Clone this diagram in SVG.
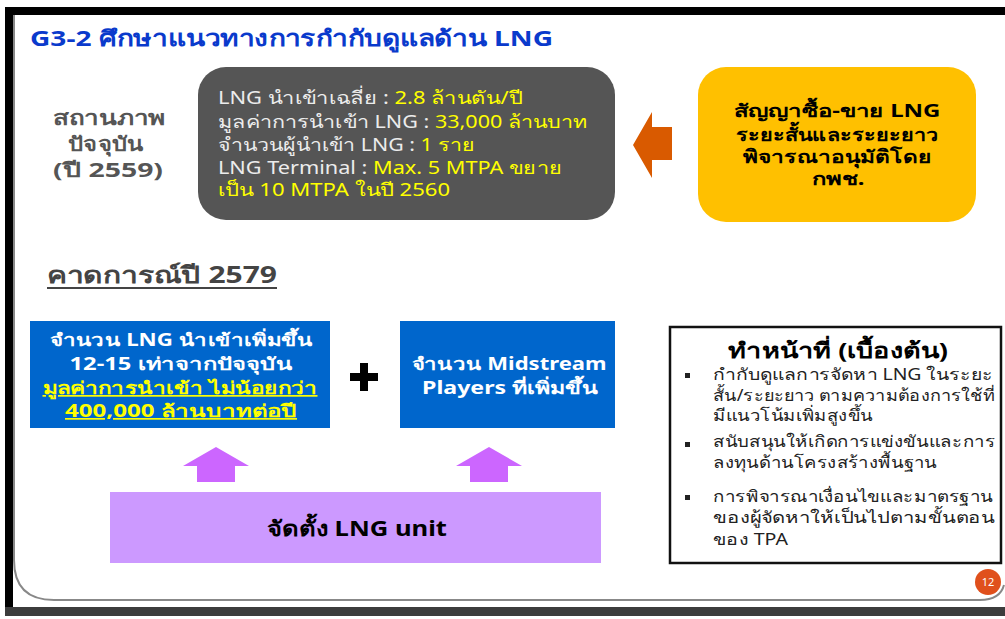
<svg xmlns="http://www.w3.org/2000/svg" width="1005" height="619" viewBox="0 0 1005 619">
<style>
text{font-family:"Noto Sans","DejaVu Sans",sans-serif}
.b{font-weight:bold}
.wt{fill:#ececec}
.yl{fill:#ffff00}
.bul{fill:#222;font-size:16px}
.mid{text-anchor:middle}
</style>
<rect x="0" y="0" width="1005" height="619" fill="#ffffff"/>
<g id="frame">
<rect x="5" y="7" width="1000" height="8" fill="#000"/>
<rect x="5" y="7" width="8" height="605" fill="#000"/>
<rect x="5" y="607" width="1000" height="9" fill="#3c3c3c"/>
<path d="M14 15 V560 Q14 600 54 600 H980 Q1000 600 1004 585" fill="none" stroke="#888" stroke-width="2"/>
</g>
<g id="title">
<text x="30" y="46" class="b" font-size="22" fill="#0a3acc" textLength="523" lengthAdjust="spacingAndGlyphs">G3-2 ศึกษาแนวทางการกำกับดูแลด้าน LNG</text>
</g>
<g id="status-label" class="b" font-size="20" fill="#555">
<text x="109" y="125" class="b mid" textLength="112" lengthAdjust="spacingAndGlyphs">สถานภาพ</text>
<text x="106" y="151" class="b mid" textLength="76" lengthAdjust="spacingAndGlyphs">ปัจจุบัน</text>
<text x="108" y="177" class="b mid" textLength="110" lengthAdjust="spacingAndGlyphs">(ปี 2559)</text>
</g>
<g id="status-box" font-size="18">
<rect x="198" y="67" width="417" height="153" rx="28" fill="#555555"/>
<text x="218" y="104" textLength="304" lengthAdjust="spacingAndGlyphs"><tspan class="wt">LNG นำเข้าเฉลี่ย : </tspan><tspan class="yl">2.8 ล้านตัน/ปี</tspan></text>
<text x="218" y="128" textLength="369" lengthAdjust="spacingAndGlyphs"><tspan class="wt">มูลค่าการนำเข้า LNG : </tspan><tspan class="yl">33,000 ล้านบาท</tspan></text>
<text x="218" y="151" textLength="257" lengthAdjust="spacingAndGlyphs"><tspan class="wt">จำนวนผู้นำเข้า LNG : </tspan><tspan class="yl">1 ราย</tspan></text>
<text x="218" y="174" textLength="344" lengthAdjust="spacingAndGlyphs"><tspan class="wt">LNG Terminal : </tspan><tspan class="yl">Max. 5 MTPA ขยาย</tspan></text>
<text x="218" y="196" class="yl" textLength="232" lengthAdjust="spacingAndGlyphs">เป็น 10 MTPA ในปี 2560</text>
</g>
<g id="connectors">
<path d="M633 145 L652 112 V127 H672 V160 H652 V178 Z" fill="#d95a00"/>
<path d="M183 466 L216 447 L249 466 H235 V482 H197 V466 Z" fill="#cc66ff"/>
<path d="M456 466 L489 447 L522 466 H508 V482 H470 V466 Z" fill="#cc66ff"/>
<path d="M360 363 h8 v10 h10 v8 h-10 v10 h-8 v-10 h-10 v-8 h10 Z" fill="#000"/>
</g>
<g id="contract-box" font-size="18" fill="#000">
<rect x="698" y="67" width="278" height="155" rx="28" fill="#ffc000"/>
<text x="837" y="117" class="b mid" textLength="207" lengthAdjust="spacingAndGlyphs">สัญญาซื้อ-ขาย LNG</text>
<text x="837" y="141" class="b mid" textLength="203" lengthAdjust="spacingAndGlyphs">ระยะสั้นและระยะยาว</text>
<text x="837" y="163" class="b mid" textLength="189" lengthAdjust="spacingAndGlyphs">พิจารณาอนุมัติโดย</text>
<text x="838" y="185" class="b mid" textLength="53" lengthAdjust="spacingAndGlyphs">กพช.</text>
</g>
<g id="forecast-label">
<text x="47" y="283" class="b" font-size="23" fill="#444" textLength="230" lengthAdjust="spacingAndGlyphs">คาดการณ์ปี 2579</text>
<rect x="47" y="287" width="230" height="2" fill="#444"/>
</g>
<g id="forecast-box-1" font-size="17">
<rect x="30" y="321" width="300" height="107" fill="#0066cc"/>
<text x="181" y="346" class="b mid" fill="#fff" textLength="263" lengthAdjust="spacingAndGlyphs">จำนวน LNG นำเข้าเพิ่มขึ้น</text>
<text x="181" y="370" class="b mid" fill="#fff" textLength="223" lengthAdjust="spacingAndGlyphs">12-15 เท่าจากปัจจุบัน</text>
<text x="180" y="394" class="b mid" fill="#ffff00" text-decoration="underline" textLength="275" lengthAdjust="spacingAndGlyphs">มูลค่าการนำเข้า ไม่น้อยกว่า</text>
<text x="181" y="417" class="b mid" fill="#ffff00" text-decoration="underline" textLength="232" lengthAdjust="spacingAndGlyphs">400,000 ล้านบาทต่อปี</text>
</g>
<g id="forecast-box-2" font-size="17" fill="#fff">
<rect x="400" y="321" width="215" height="107" fill="#0066cc"/>
<text x="509" y="370" class="b mid" textLength="195" lengthAdjust="spacingAndGlyphs">จำนวน Midstream</text>
<text x="510" y="394" class="b mid" textLength="176" lengthAdjust="spacingAndGlyphs">Players ที่เพิ่มขึ้น</text>
</g>
<g id="duties-box">
<rect x="670" y="327" width="331" height="236" fill="#fff" stroke="#111" stroke-width="2.5"/>
<text x="838" y="358" class="b mid" font-size="21" fill="#000" textLength="220" lengthAdjust="spacingAndGlyphs">ทำหน้าที่ (เบื้องต้น)</text>
<rect x="685" y="373" width="5" height="5" fill="#222"/>
<rect x="685" y="442" width="5" height="5" fill="#222"/>
<rect x="685" y="495" width="5" height="5" fill="#222"/>
<text x="713" y="380" class="bul" textLength="280" lengthAdjust="spacingAndGlyphs">กำกับดูแลการจัดหา LNG  ในระยะ</text>
<text x="713" y="401" class="bul" textLength="282" lengthAdjust="spacingAndGlyphs">สั้น/ระยะยาว ตามความต้องการใช้ที่</text>
<text x="713" y="421" class="bul" textLength="160" lengthAdjust="spacingAndGlyphs">มีแนวโน้มเพิ่มสูงขึ้น</text>
<text x="713" y="447" class="bul" textLength="282" lengthAdjust="spacingAndGlyphs">สนับสนุนให้เกิดการแข่งขันและการ</text>
<text x="713" y="468" class="bul" textLength="224" lengthAdjust="spacingAndGlyphs">ลงทุนด้านโครงสร้างพื้นฐาน</text>
<text x="713" y="502" class="bul" textLength="280" lengthAdjust="spacingAndGlyphs">การพิจารณาเงื่อนไขและมาตรฐาน</text>
<text x="713" y="523" class="bul" textLength="282" lengthAdjust="spacingAndGlyphs">ของผู้จัดหาให้เป็นไปตามขั้นตอน</text>
<text x="713" y="545" class="bul" textLength="75" lengthAdjust="spacingAndGlyphs">ของ TPA</text>
</g>
<g id="lng-unit">
<rect x="110" y="492" width="491" height="71" fill="#cc99ff"/>
<text x="357" y="536" class="b mid" font-size="21" fill="#000" textLength="180" lengthAdjust="spacingAndGlyphs">จัดตั้ง LNG unit</text>
</g>
<g id="page-number">
<circle cx="988" cy="582" r="13" fill="#e0501c"/>
<text x="988" y="586" class="mid" font-size="11" fill="#fff">12</text>
</g>
</svg>
